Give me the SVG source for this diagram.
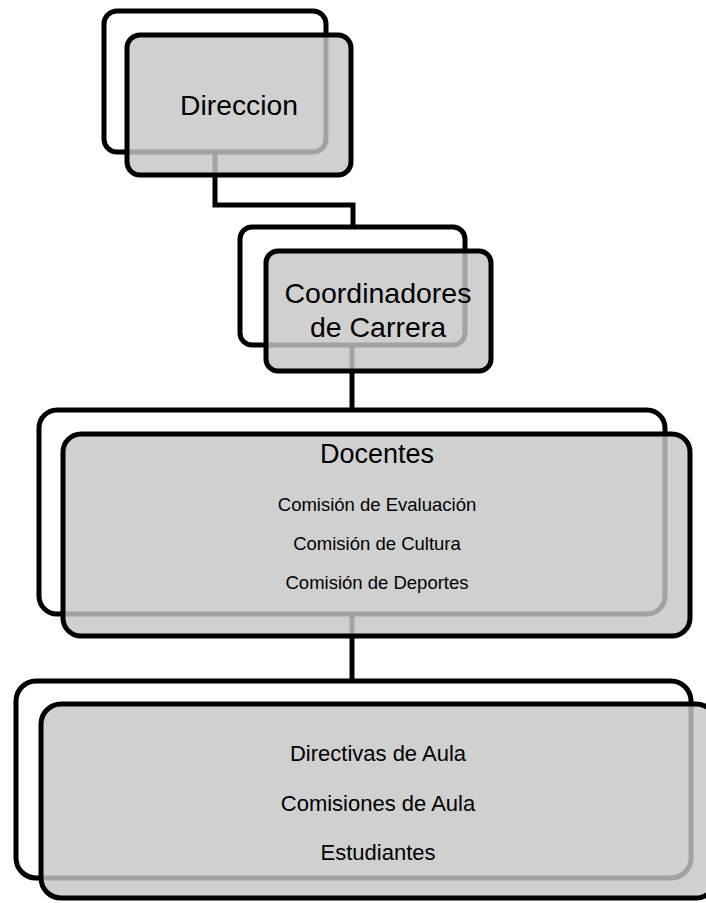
<svg xmlns="http://www.w3.org/2000/svg" width="706" height="903" viewBox="0 0 706 903">
<style>
.back{fill:#ffffff;stroke:#000;stroke-width:5}
.front{fill:#c6c6c6;fill-opacity:0.82;stroke:#000;stroke-width:5}
.conn{fill:none;stroke:#000;stroke-width:5}
text{font-family:"Liberation Sans",Arial,sans-serif;fill:#000;text-anchor:middle}
</style>
<rect width="706" height="903" fill="#fff"/>
<g id="connectors">
<path class="conn" d="M215,152 V205 H353 V227"/>
<path class="conn" d="M352,345 V410"/>
<path class="conn" d="M352,614 V681"/>
</g>
<g id="node-direccion">
<rect class="back" x="104" y="11" width="222" height="141" rx="13"/>
<rect class="front" x="127" y="35" width="224" height="140" rx="13"/>
<text x="239" y="115" font-size="28.3">Direccion</text>
</g>
<g id="node-coordinadores">
<rect class="back" x="240" y="227" width="225" height="118" rx="12"/>
<rect class="front" x="266" y="251" width="225" height="120" rx="12"/>
<text x="378" y="303" font-size="28.5">Coordinadores</text>
<text x="378" y="337" font-size="28.5">de Carrera</text>
</g>
<g id="node-docentes">
<rect class="back" x="39" y="410" width="626" height="204" rx="18"/>
<rect class="front" x="63" y="434" width="627" height="202" rx="18"/>
<text x="377" y="463" font-size="27">Docentes</text>
<text x="377" y="511" font-size="18.5">Comisión de Evaluación</text>
<text x="377" y="550" font-size="18.5">Comisión de Cultura</text>
<text x="377" y="589" font-size="18.5">Comisión de Deportes</text>
</g>
<g id="node-aula">
<rect class="back" x="16" y="681" width="675" height="197" rx="20"/>
<rect class="front" x="41" y="704" width="675" height="194" rx="20"/>
<text x="378" y="761" font-size="22">Directivas de Aula</text>
<text x="378" y="811" font-size="22">Comisiones de Aula</text>
<text x="378" y="860" font-size="22">Estudiantes</text>
</g>
</svg>
